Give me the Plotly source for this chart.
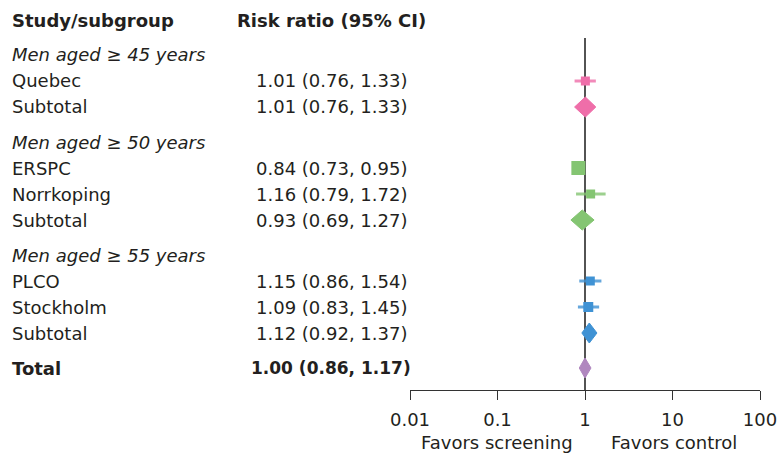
import plotly.graph_objects as go

# ---------------- data ----------------
groups = ["Men aged \u2265 45 years", "Men aged \u2265 50 years", "Men aged \u2265 55 years"]
studies = [["Quebec"], ["ERSPC", "Norrkoping"], ["PLCO", "Stockholm"]]
study_rr = [[1.01], [0.84, 1.16], [1.15, 1.09]]
study_lo = [[0.76], [0.73, 0.79], [0.86, 0.83]]
study_hi = [[1.33], [0.95, 1.72], [1.54, 1.45]]
sub_rr = [1.01, 0.93, 1.12]
sub_lo = [0.76, 0.69, 0.92]
sub_hi = [1.33, 1.27, 1.37]
total_rr, total_lo, total_hi = 1.00, 0.86, 1.17
tick_vals = [0.01, 0.1, 1, 10, 100]
tick_text = ["0.01", "0.1", "1", "10", "100"]

# ---------------- style ----------------
colors = ["#EF6EA9", "#84C572", "#3F92D4"]
total_color = "#B087BF"
square_sizes = [[9], [14, 9], [9, 10]]
FONT = "DejaVu Sans, sans-serif"
FS = 18
TXT = "#231f20"
W, H = 779, 454
STEP, GAP = 26, 9
HEADER_Y = 20
AXIS_Y = 390

fig = go.Figure()
ann = []

def py(y):
    return 1 - y / H

def text(x, y, s, bold=False, italic=False, anchor="left", size=FS):
    if bold:
        s = "<b>" + s + "</b>"
    if italic:
        s = "<i>" + s + "</i>"
    ann.append(dict(x=x / W, xref="paper", y=py(y), yref="paper", text=s, showarrow=False,
                    xanchor=anchor, yanchor="middle",
                    font=dict(family=FONT, size=size, color=TXT)))

def fmt(r, l, h):
    return f"{r:.2f} ({l:.2f}, {h:.2f})"

def diamond(rr, lo, hi, y, color):
    fig.add_trace(go.Scatter(x=[lo, rr, hi, rr, lo], y=[y, y - 10, y, y + 10, y],
                             fill="toself", fillcolor=color, mode="lines",
                             line=dict(color=color, width=1), hoverinfo="skip",
                             showlegend=False))

text(10, HEADER_Y, "Study/subgroup", bold=True)
text(331, HEADER_Y, "Risk ratio (95% CI)", bold=True, anchor="center")

y = HEADER_Y
for g in range(len(groups)):
    y += STEP + GAP
    text(10, y, groups[g], italic=True)
    for k, name in enumerate(studies[g]):
        y += STEP
        text(10, y, name)
        text(331, y, fmt(study_rr[g][k], study_lo[g][k], study_hi[g][k]), anchor="center")
        fig.add_trace(go.Scatter(x=[study_lo[g][k], study_hi[g][k]], y=[y, y], mode="lines",
                                 line=dict(color=colors[g], width=3), opacity=0.8,
                                 hoverinfo="skip", showlegend=False))
        fig.add_trace(go.Scatter(x=[study_rr[g][k]], y=[y], mode="markers",
                                 marker=dict(symbol="square", size=square_sizes[g][k],
                                             color=colors[g], line=dict(width=0)),
                                 hoverinfo="skip", showlegend=False))
    y += STEP
    text(10, y, "Subtotal")
    text(331, y, fmt(sub_rr[g], sub_lo[g], sub_hi[g]), anchor="center")
    diamond(sub_rr[g], sub_lo[g], sub_hi[g], y, colors[g])

y += STEP + GAP
text(10, y, "Total", bold=True)
text(331, y, fmt(total_rr, total_lo, total_hi), bold=True, anchor="center", size=17)
diamond(total_rr, total_lo, total_hi, y, total_color)

# reference line at RR = 1
fig.add_shape(type="line", x0=1, x1=1, y0=38, y1=AXIS_Y, xref="x", yref="y",
              line=dict(color="#1a1a1a", width=1.5), layer="below")

text(497, 442, "Favors screening", anchor="center")
text(674, 442, "Favors control", anchor="center")

fig.update_layout(
    width=W, height=H, margin=dict(l=0, r=0, t=0, b=0, pad=0, autoexpand=False),
    paper_bgcolor="white", plot_bgcolor="white",
    annotations=ann,
    xaxis=dict(type="log", range=[-2, 2], domain=[410 / W, 760 / W],
               tickvals=tick_vals, ticktext=tick_text, ticks="outside", ticklen=9,
               tickwidth=1.2, tickcolor="#333", showline=True, linecolor="#333",
               linewidth=1.3, showgrid=False, zeroline=False, automargin=False,
               ticklabelstandoff=4,
               tickfont=dict(family=FONT, size=FS, color=TXT),
               anchor="y", fixedrange=True),
    yaxis=dict(range=[AXIS_Y, 0], domain=[(H - AXIS_Y) / H, 1], visible=False,
               showgrid=False, zeroline=False, fixedrange=True, automargin=False),
    showlegend=False,
)

fig.write_html("out.html", config={"displayModeBar": False},
               post_script="document.body.style.margin='0';document.body.style.padding='0';")
